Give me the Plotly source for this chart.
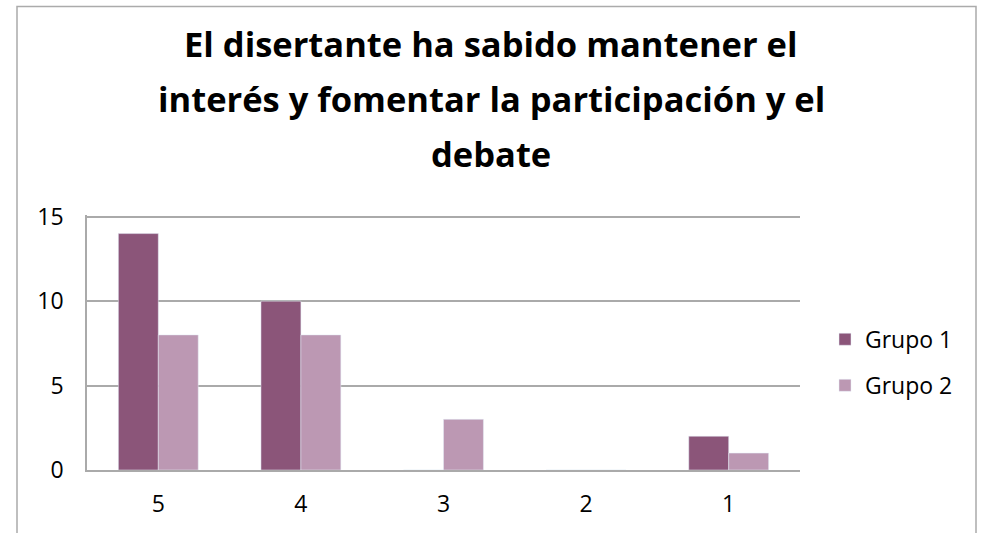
import plotly.graph_objects as go

categories = ["5", "4", "3", "2", "1"]
grupo1 = [14, 10, 0, 0, 2]
grupo2 = [8, 8, 3, 0, 1]
title_lines = ["El disertante ha sabido mantener el",
               "interés y fomentar la participación y el",
               "debate"]

FONT = "Open Sans"
W, H = 981, 533
YMAX = 15.1
L, R, B = 87, 800, 470
T = B - 253 * YMAX / 15
pw, ph = R - L, B - T

def px_x(x):
    return (x - L) / pw

def px_y(y):
    return (B - y) / ph

fig = go.Figure()
fig.add_trace(go.Bar(name="Grupo 1", x=categories, y=grupo1, marker_color="#8B5579",
                     legend="legend"))
fig.add_trace(go.Bar(name="Grupo 2", x=categories, y=grupo2, marker_color="#BC98B3",
                     legend="legend2"))

annotations = []
for i, line in enumerate(title_lines):
    annotations.append(dict(text="<b>%s</b>" % line, x=px_x(491), y=px_y(44 + 55 * i),
                            xref="paper", yref="paper", xanchor="center", yanchor="middle",
                            showarrow=False, font=dict(family=FONT, size=34.5, color="#000000")))

legend_common = dict(xanchor="left", yanchor="top", font=dict(family=FONT, size=23),
                     itemwidth=30, bgcolor="rgba(0,0,0,0)")

fig.update_layout(
    width=W, height=H,
    margin=dict(l=L, r=W - R, t=T, b=H - B, pad=0),
    paper_bgcolor="white", plot_bgcolor="white",
    barmode="group", bargap=0.44, bargroupgap=0,
    font=dict(family=FONT, size=23, color="#000000"),
    showlegend=True,
    legend=dict(x=px_x(825), y=px_y(318), **legend_common),
    legend2=dict(x=px_x(825), y=px_y(364), **legend_common),
    xaxis=dict(showgrid=False, showline=True, linecolor="#AAAAAA", linewidth=2,
               ticks="", tickfont=dict(size=23), ticklabelstandoff=12),
    yaxis=dict(range=[0, YMAX], tickvals=[0, 5, 10, 15], showgrid=True, gridcolor="#AAAAAA",
               gridwidth=1.5, zeroline=False, showline=True, linecolor="#AAAAAA",
               linewidth=1.5, ticks="", tickfont=dict(size=23), ticklabelstandoff=17),
    annotations=annotations,
    shapes=[dict(type="rect", xref="paper", yref="paper",
                 x0=px_x(17), x1=px_x(976), y0=px_y(560), y1=px_y(7),
                 line=dict(color="#ABABAB", width=1.5), fillcolor="rgba(0,0,0,0)", layer="below")],
)

fig.write_html("out.html", config={"displayModeBar": False},
               post_script="document.body.style.margin='0';")
